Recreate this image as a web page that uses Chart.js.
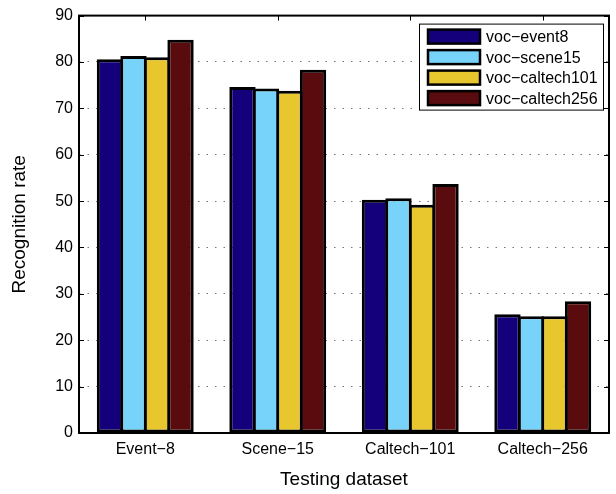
<!DOCTYPE html>
<html>
<head>
<meta charset="utf-8">
<script src="https://cdn.jsdelivr.net/npm/chart.js@4/dist/chart.umd.min.js"></script>
<style>
  html, body { margin: 0; padding: 0; background: #fff; }
</style>
</head>
<body>
<canvas id="myChart" width="616" height="494"></canvas>
<script>
// data
const categories = ["Event\u22128", "Scene\u221215", "Caltech\u2212101", "Caltech\u2212256"];
const seriesNames = ["voc\u2212event8", "voc\u2212scene15", "voc\u2212caltech101", "voc\u2212caltech256"];
const vocEvent8 = [80.6, 74.6, 50.3, 25.6];
const vocScene15 = [81.3, 74.3, 50.6, 25.2];
const vocCaltech101 = [81.0, 73.8, 49.2, 25.2];
const vocCaltech256 = [84.8, 78.3, 53.7, 28.4];
const seriesColors = ["#13007a", "#77d3f9", "#e8c62e", "#5a0b0e"];
const yMin = 0;
const yMax = 90;
const yStep = 10;

Chart.defaults.font.family = "'Liberation Sans', Arial, sans-serif";
Chart.defaults.color = "#000";

// box round the plot plus inward tick marks on all four sides
const framePlugin = {
  id: "frame",
  afterDatasetsDraw(chart) {
    const { ctx, chartArea: a, scales } = chart;
    ctx.save();
    ctx.strokeStyle = "#000";
    ctx.lineWidth = 1;
    ctx.beginPath();
    scales.y.ticks.forEach((t) => {
      const y = Math.round(scales.y.getPixelForValue(t.value)) + 0.5;
      ctx.moveTo(a.left, y); ctx.lineTo(a.left + 5, y);
      ctx.moveTo(a.right, y); ctx.lineTo(a.right - 5, y);
    });
    categories.forEach((c, i) => {
      const x = Math.round(scales.x.getPixelForValue(i)) + 0.5;
      ctx.moveTo(x, a.bottom); ctx.lineTo(x, a.bottom - 5);
      ctx.moveTo(x, a.top); ctx.lineTo(x, a.top + 5);
    });
    ctx.stroke();
    ctx.lineWidth = 2;
    ctx.strokeRect(a.left, a.top, a.right - a.left, a.bottom - a.top);
    ctx.restore();
  }
};

// matlab style legend box in the top right corner
const legendPlugin = {
  id: "boxLegend",
  afterDatasetsDraw(chart) {
    const { ctx, chartArea: a } = chart;
    const w = 184, h = 86;
    const left = a.right - 190, top = a.top + 8;
    ctx.save();
    ctx.fillStyle = "#fff";
    ctx.fillRect(left, top, w, h);
    ctx.strokeStyle = "#000";
    ctx.lineWidth = 1;
    ctx.strokeRect(left + 0.5, top + 0.5, w, h);
    ctx.font = "16px 'Liberation Sans', Arial, sans-serif";
    ctx.textBaseline = "middle";
    chart.data.datasets.forEach((ds, i) => {
      const cy = top + 13 + i * 20.5;
      ctx.fillStyle = ds.backgroundColor;
      ctx.fillRect(left + 9, cy - 7, 52, 14);
      ctx.lineWidth = 2.5;
      ctx.strokeRect(left + 9, cy - 7, 52, 14);
      ctx.fillStyle = "#000";
      ctx.fillText(ds.label, left + 67, cy + 1);
    });
    ctx.restore();
  }
};

const seriesValues = [vocEvent8, vocScene15, vocCaltech101, vocCaltech256];

new Chart(document.getElementById("myChart"), {
  type: "bar",
  data: {
    labels: categories,
    datasets: seriesValues.map((vals, i) => ({
      label: seriesNames[i],
      data: vals,
      backgroundColor: seriesColors[i],
      borderColor: "#000",
      borderWidth: 3,
      borderSkipped: false,
      categoryPercentage: 0.71,
      barPercentage: 1.12,
    })),
  },
  options: {
    responsive: false,
    animation: false,
    layout: { padding: { top: 14, right: 7, left: 0, bottom: 0 } },
    plugins: {
      legend: { display: false },
      tooltip: { enabled: false },
    },
    scales: {
      x: {
        afterFit(scale) { scale.height = 61; },
        grid: { display: false, drawTicks: false },
        border: { display: false },
        ticks: { padding: 7, font: { size: 16 } },
        title: {
          display: true,
          text: "Testing dataset",
          font: { size: 19 },
          padding: { top: 0, bottom: 3 },
        },
      },
      y: {
        min: yMin,
        max: yMax,
        afterFit(scale) { scale.width = 79; },
        grid: {
          color: "#777",
          lineWidth: 1,
          drawTicks: false,
        },
        border: { display: false, dash: [1.5, 7] },
        ticks: { stepSize: yStep, padding: 6, font: { size: 16 } },
        title: {
          display: true,
          text: "Recognition rate",
          font: { size: 19 },
          padding: { top: 8, bottom: 0 },
        },
      },
    },
  },
  plugins: [framePlugin, legendPlugin],
});
</script>
</body>
</html>
